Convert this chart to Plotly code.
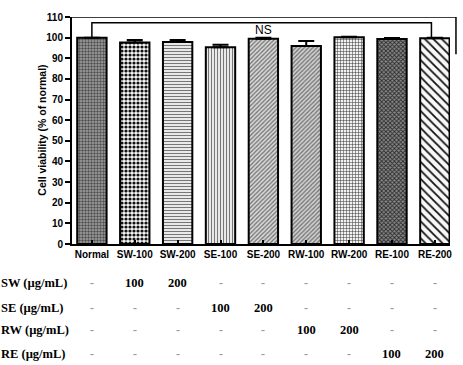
import plotly.graph_objects as go

categories = ["Normal", "SW-100", "SW-200", "SE-100", "SE-200", "RW-100", "RW-200", "RE-100", "RE-200"]
viability = [100.0, 97.6, 97.9, 95.3, 99.5, 95.9, 100.2, 99.3, 99.7]
errors = [0.0, 1.2, 1.0, 1.3, 0.5, 2.5, 0.2, 0.5, 0.3]

row_labels = ["SW (\u00b5g/mL)", "SE (\u00b5g/mL)", "RW (\u00b5g/mL)", "RE (\u00b5g/mL)"]
row_values = [
    ["-", "100", "200", "-", "-", "-", "-", "-", "-"],
    ["-", "-", "-", "100", "200", "-", "-", "-", "-"],
    ["-", "-", "-", "-", "-", "100", "200", "-", "-"],
    ["-", "-", "-", "-", "-", "-", "-", "100", "200"],
]

shapes_p = [".", ".", "-", "|", "/", "/", "+", "x", "\\"]
bgs = ["#a4a4a4", "#f6f6f6", "#f6f6f6", "#f6f6f6", "#d8d8d8", "#d0d0d0", "#f2f2f2", "#8a8a8a", "#f8f8f8"]
fgs = ["#505050", "#111111", "#777777", "#777777", "#707070", "#707070", "#333333", "#2a2a2a", "#111111"]
sizes = [3, 4, 3, 3, 3, 3, 3, 3, 6]
solid = [0.5, 0.5, 0.4, 0.4, 0.4, 0.4, 0.3, 0.5, 0.3]

x = list(range(len(categories)))

fig = go.Figure()
for i in x:
    fig.add_trace(go.Bar(
        x=[i], y=[viability[i]], width=0.685,
        marker=dict(
            color=fgs[i],
            line=dict(color="black", width=2),
            pattern=dict(shape=shapes_p[i], bgcolor=bgs[i], fgcolor=fgs[i],
                         size=sizes[i], solidity=solid[i], fillmode="replace"),
        ),
        error_y=dict(type="data", symmetric=False, array=[errors[i]],
                     arrayminus=[0], color="black", thickness=2, width=8),
        showlegend=False,
    ))

L, R, T, B = 72, 11, 12, 121
W, H = 463, 365
pw = W - L - R
ph = H - T - B

fig.update_layout(
    width=W, height=H,
    margin=dict(l=L, r=R, t=T, b=B),
    paper_bgcolor="white", plot_bgcolor="white",
    barmode="overlay",
    font=dict(family="Liberation Sans", color="black"),
)
fig.update_xaxes(
    range=[-0.464, 8.353], tickmode="array", tickvals=x, ticktext=categories,
    showline=True, linecolor="black", linewidth=2, ticks="inside", ticklen=4,
    tickwidth=1.5, tickcolor="black", showgrid=False, zeroline=False,
    tickfont=dict(family="Liberation Sans", size=10, color="black", weight="bold"),
)
fig.update_yaxes(
    range=[0, 110], dtick=10, showline=True, linecolor="black", linewidth=2,
    ticks="outside", ticklen=5, tickwidth=2, tickcolor="black",
    showgrid=False, zeroline=False,
    tickfont=dict(family="Liberation Sans", size=10, color="black", weight="bold"),
)

# y-axis title
fig.add_annotation(
    text="Cell viability (% of normal)", textangle=-90,
    xref="paper", yref="paper", x=(41 - L) / pw, y=0.5,
    xanchor="center", yanchor="middle", showarrow=False,
    font=dict(family="Liberation Sans", size=10.5, color="black", weight="bold"),
)

# outer frame (top and right)
fig.add_shape(type="path", xref="paper", yref="y",
              path=f"M 0 110 L {(458 - L) / pw} 110 L {(458 - L) / pw} 92",
              line=dict(color="black", width=1.5))
# significance bracket
fig.add_shape(type="path", xref="x", yref="y",
              path=f"M 0 {viability[0]} L 0 107.2 L 7.92 107.2 L 7.92 {viability[8]}",
              line=dict(color="black", width=1.5))
fig.add_annotation(text="NS", xref="x", yref="y", x=4.0, y=103.6,
                   showarrow=False, xanchor="center", yanchor="middle",
                   font=dict(family="Liberation Sans", size=12, color="black"))

# table below
row_px = [284, 309, 332, 356]
for label, vals, py in zip(row_labels, row_values, row_px):
    yp = (H - B - py) / ph
    fig.add_annotation(text=label, xref="paper", yref="paper", x=(-1 - L) / pw, y=yp,
                       xanchor="left", yanchor="middle", showarrow=False,
                       font=dict(family="Liberation Serif", size=12.5, color="black", weight="bold"))
    for xi, v in zip(x, vals):
        if v == "-":
            fnt = dict(family="Liberation Serif", size=12, color="#999999", weight="bold")
        else:
            fnt = dict(family="Liberation Serif", size=12.5, color="black", weight="bold")
        fig.add_annotation(text=v, xref="x", yref="paper", x=xi, y=yp,
                           xanchor="center", yanchor="middle", showarrow=False, font=fnt)

fig.write_html("out.html")
